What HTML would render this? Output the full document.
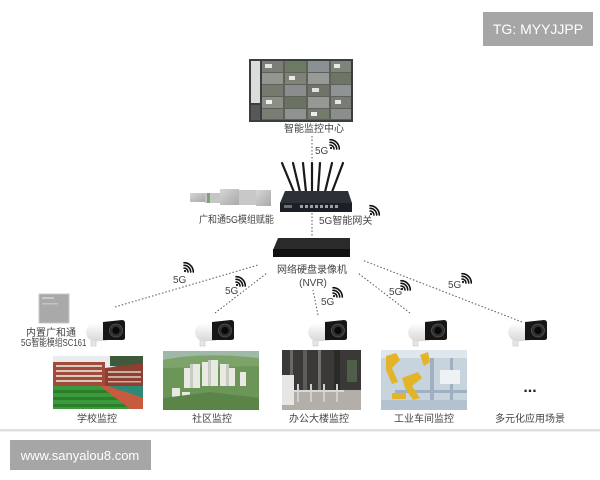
<!DOCTYPE html>
<html><head><meta charset="utf-8">
<style>
html,body{margin:0;padding:0;background:#fff;}
body{width:600px;height:480px;overflow:hidden;position:relative;}
svg{position:absolute;left:0;top:0;}
.t{font-family:"Liberation Sans","Noto Sans CJK SC",sans-serif;fill:#444;font-size:10px;}
</style></head>
<body>
<svg width="600" height="480" viewBox="0 0 600 480" xmlns="http://www.w3.org/2000/svg">
<defs>
  <linearGradient id="wg" x1="0" y1="0" x2="0" y2="1">
    <stop offset="0" stop-color="#ffffff"/><stop offset="1" stop-color="#d8d8d8"/>
  </linearGradient>
  <linearGradient id="modg" x1="0" y1="0" x2="1" y2="1">
    <stop offset="0" stop-color="#d6d6d6"/><stop offset="1" stop-color="#a9a9a9"/>
  </linearGradient>
  <g id="wifi" fill="none" stroke="#111" stroke-width="1.6" stroke-linecap="round">
    <circle cx="1" cy="-1" r="1.1" fill="#111" stroke="none"/>
    <path d="M0,-4 A4,4 0 0 1 4,0"/>
    <path d="M0,-6.7 A6.7,6.7 0 0 1 6.7,0"/>
    <path d="M0,-9.3 A9.3,9.3 0 0 1 9.3,0"/>
  </g>
  <g id="cam">
    <rect x="5" y="18" width="5" height="8" fill="#e6e6e6" stroke="#c8c8c8" stroke-width="0.6"/>
    <ellipse cx="10" cy="12" rx="10" ry="9.5" fill="url(#wg)"/>
    <rect x="9" y="3" width="12" height="18" fill="url(#wg)"/>
    <path d="M17,2 L36,0 Q39,0 39,3 L39,18 Q39,20 36,20 L17,20 Z" fill="#161616"/>
    <circle cx="30" cy="10.5" r="6.5" fill="#2e2e2e" stroke="#555" stroke-width="0.8"/>
    <circle cx="30" cy="10.5" r="3.6" fill="#080808"/>
  </g>
</defs>

<!-- TG badge -->
<rect x="483" y="12" width="110" height="34" fill="#a6a6a6"/>
<text x="538" y="34" text-anchor="middle" font-family="Liberation Sans, sans-serif" font-size="14" fill="#fff">TG: MYYJJPP</text>

<!-- Monitor -->
<rect x="249" y="59" width="104" height="63" fill="#3b3e40"/>
<rect x="251" y="61" width="9" height="42" fill="#dcdcdc"/>
<rect x="251" y="105" width="9" height="15" fill="#55595c"/>
<g>
  <rect x="262" y="61" width="89" height="59" fill="#5d6159"/>
  <rect x="262" y="61" width="21" height="11" fill="#7a7e76"/><rect x="285" y="61" width="21" height="11" fill="#6d7a64"/><rect x="308" y="61" width="21" height="11" fill="#8a9094"/><rect x="331" y="61" width="20" height="11" fill="#7f8478"/>
  <rect x="262" y="73" width="21" height="11" fill="#939690"/><rect x="285" y="73" width="21" height="11" fill="#7f8376"/><rect x="308" y="73" width="21" height="11" fill="#989a98"/><rect x="331" y="73" width="20" height="11" fill="#6c7566"/>
  <rect x="262" y="85" width="21" height="11" fill="#757a6e"/><rect x="285" y="85" width="21" height="11" fill="#8a8d90"/><rect x="308" y="85" width="21" height="11" fill="#6e7568"/><rect x="331" y="85" width="20" height="11" fill="#909394"/>
  <rect x="262" y="97" width="21" height="11" fill="#8c8e88"/><rect x="285" y="97" width="21" height="11" fill="#6a7362"/><rect x="308" y="97" width="21" height="11" fill="#969896"/><rect x="331" y="97" width="20" height="11" fill="#787d74"/>
  <rect x="262" y="109" width="21" height="10" fill="#7a7d74"/><rect x="285" y="109" width="21" height="10" fill="#909290"/><rect x="308" y="109" width="21" height="10" fill="#747a6c"/><rect x="331" y="109" width="20" height="10" fill="#8c8e8c"/>
  <rect x="265" y="64" width="7" height="4" fill="#e4e4e4"/><rect x="289" y="76" width="6" height="4" fill="#e8e8e8"/><rect x="312" y="88" width="7" height="4" fill="#e2e2e2"/><rect x="335" y="100" width="6" height="4" fill="#e6e6e6"/>
  <rect x="266" y="100" width="6" height="4" fill="#f0f0f0"/><rect x="334" y="64" width="6" height="4" fill="#e8e8e8"/><rect x="311" y="112" width="6" height="4" fill="#ececec"/>
</g>
<text class="t" x="314" y="132" text-anchor="middle" font-size="9.5">智能监控中心</text>

<!-- top dotted link -->
<line x1="312" y1="136" x2="312" y2="161" stroke="#555" stroke-width="1" stroke-dasharray="1.5,2"/>
<text class="t" x="315" y="154" font-size="9.5">5G</text>
<use href="#wifi" x="330" y="149"/>

<!-- modules -->
<rect x="190" y="193" width="15" height="9" fill="url(#modg)"/>
<rect x="205" y="193" width="15" height="10" fill="#c4c8c2"/>
<rect x="207" y="193" width="3" height="10" fill="#7fa07a"/>
<rect x="220" y="189" width="19" height="16" fill="url(#modg)"/>
<rect x="239" y="190" width="17" height="15" fill="#c8c8c8"/>
<rect x="256" y="190" width="15" height="16" fill="url(#modg)"/>
<g transform="translate(199,223) scale(0.9,1)"><text class="t" x="0" y="0" font-size="9.5">广和通5G模组赋能</text></g>

<!-- router -->
<g stroke="#1a1a1a" stroke-width="2.2" stroke-linecap="round">
  <line x1="294" y1="192" x2="282" y2="163"/>
  <line x1="300" y1="192" x2="293" y2="163"/>
  <line x1="306" y1="192" x2="303" y2="163"/>
  <line x1="312" y1="192" x2="312" y2="163"/>
  <line x1="318" y1="192" x2="320" y2="163"/>
  <line x1="325" y1="192" x2="332" y2="163"/>
  <line x1="332" y1="192" x2="343" y2="163"/>
</g>
<path d="M285,191 L348,191 L352,203 L280,203 Z" fill="#2c3138"/>
<rect x="280" y="203" width="72" height="9" fill="#1c2026"/>
<rect x="284" y="205" width="8" height="3" fill="#6a7078"/>
<g fill="#9aa2a8"><rect x="300" y="205" width="3" height="3"/><rect x="305" y="205" width="3" height="3"/><rect x="310" y="205" width="3" height="3"/><rect x="315" y="205" width="3" height="3"/><rect x="320" y="205" width="3" height="3"/><rect x="325" y="205" width="3" height="3"/><rect x="330" y="205" width="3" height="3"/><rect x="335" y="205" width="3" height="3"/></g>
<text class="t" x="319" y="224" font-size="10">5G智能网关</text>
<use href="#wifi" x="370" y="215"/>

<line x1="312" y1="213" x2="312" y2="236" stroke="#555" stroke-width="1" stroke-dasharray="1.5,2"/>

<!-- NVR -->
<path d="M278,238 L350,238 L350,250 L273,250 Z" fill="#2a2a2a"/>
<rect x="273" y="249" width="77" height="8" fill="#111"/>
<text class="t" x="312" y="273" text-anchor="middle" font-size="10">网络硬盘录像机</text>
<text class="t" x="313" y="286" text-anchor="middle" font-size="10.5">(NVR)</text>

<!-- dotted links to cameras -->
<g stroke="#555" stroke-width="1" stroke-dasharray="1.5,2" fill="none">
  <line x1="115" y1="307" x2="258" y2="265"/>
  <line x1="215" y1="313" x2="267" y2="273"/>
  <line x1="318" y1="315" x2="313" y2="290"/>
  <line x1="410" y1="313" x2="358" y2="273"/>
  <line x1="522" y1="322" x2="362" y2="260"/>
</g>
<text class="t" x="173" y="283" font-size="9.5">5G</text><use href="#wifi" x="184" y="272"/>
<text class="t" x="225" y="294" font-size="9.5">5G</text><use href="#wifi" x="236" y="286"/>
<text class="t" x="321" y="305" font-size="9.5">5G</text><use href="#wifi" x="333" y="297"/>
<text class="t" x="389" y="295" font-size="9.5">5G</text><use href="#wifi" x="401" y="290"/>
<text class="t" x="448" y="288" font-size="9.5">5G</text><use href="#wifi" x="462" y="283"/>

<!-- left chip -->
<rect x="39" y="294" width="30" height="29" fill="#a9a9a9" stroke="#c8c8c8" stroke-width="1"/>
<rect x="42" y="297" width="12" height="2" fill="#c9c9c9"/>
<rect x="42" y="303" width="16" height="1.5" fill="#c4c4c4"/>
<text class="t" x="51" y="336" text-anchor="middle" font-size="9.5">内置广和通</text>
<g transform="translate(21,346) scale(0.78,1)"><text class="t" x="0" y="0" font-size="9.5">5G智能模组SC161</text></g>

<!-- cameras -->
<use href="#cam" x="86" y="320"/>
<use href="#cam" x="195" y="320"/>
<use href="#cam" x="308" y="320"/>
<use href="#cam" x="408" y="320"/>
<use href="#cam" x="508" y="320"/>

<!-- school photo -->
<g>
  <rect x="53" y="356" width="90" height="53" fill="#e8ecee"/>
  <path d="M110,356 L143,356 L143,368 L110,366 Z" fill="#3e5a3a"/>
  <rect x="53" y="362" width="52" height="24" fill="#a24a3c"/>
  <g fill="#d9c9bd"><rect x="56" y="365" width="46" height="2"/><rect x="56" y="370" width="46" height="2"/><rect x="56" y="375" width="46" height="2"/><rect x="56" y="380" width="46" height="2"/></g>
  <path d="M105,368 L143,363 L143,386 L105,386 Z" fill="#8f3e32"/>
  <g fill="#c9aea2"><rect x="108" y="371" width="33" height="2"/><rect x="108" y="376" width="33" height="2"/><rect x="108" y="381" width="33" height="1.5"/></g>
  <rect x="53" y="386" width="90" height="23" fill="#3c9a3a"/>
  <g fill="#2a7e2c"><rect x="53" y="390" width="70" height="3"/><rect x="53" y="397" width="75" height="3"/><rect x="53" y="404" width="80" height="3"/></g>
  <path d="M100,386 L143,386 L143,409 L130,409 Z" fill="#c85a40"/>
  <path d="M108,386 L143,386 L143,398 Z" fill="#2e8a76"/>
</g>
<!-- community photo -->
<g>
  <rect x="163" y="351" width="96" height="59" fill="#6c9558"/>
  <rect x="163" y="351" width="96" height="10" fill="#9fb8a8"/>
  <path d="M163,360 Q200,352 259,358 L259,366 L163,368 Z" fill="#7da36a"/>
  <g fill="#e9e9e3">
    <rect x="184" y="368" width="7" height="20"/><rect x="193" y="364" width="7" height="24"/><rect x="202" y="362" width="7" height="24"/>
    <rect x="211" y="360" width="7" height="26"/><rect x="220" y="364" width="7" height="22"/><rect x="229" y="368" width="6" height="18"/>
    <rect x="172" y="388" width="8" height="16"/><rect x="182" y="392" width="8" height="13"/><rect x="240" y="372" width="6" height="14"/>
  </g>
  <g fill="#c8cac4"><rect x="190" y="364" width="3" height="24"/><rect x="208" y="360" width="3" height="26"/><rect x="226" y="364" width="3" height="22"/></g>
  <path d="M163,398 L210,392 L259,398 L259,410 L163,410 Z" fill="#5b8449"/>
</g>
<!-- office photo -->
<g>
  <rect x="282" y="350" width="79" height="60" fill="#3a3937"/>
  <rect x="290" y="350" width="3" height="45" fill="#6a6864"/>
  <rect x="303" y="350" width="4" height="45" fill="#5e5c58"/>
  <rect x="318" y="350" width="3" height="45" fill="#74726c"/>
  <rect x="334" y="350" width="6" height="40" fill="#2a2a28"/>
  <rect x="347" y="360" width="10" height="22" fill="#4f5e48"/>
  <rect x="282" y="390" width="79" height="20" fill="#b3afa8"/>
  <rect x="282" y="375" width="12" height="30" fill="#e6e6e4"/>
  <g fill="#cfd0cc"><rect x="297" y="384" width="2" height="18"/><rect x="310" y="384" width="2" height="18"/><rect x="323" y="384" width="2" height="18"/><rect x="336" y="384" width="2" height="18"/></g>
  <rect x="294" y="390" width="50" height="2" fill="#d8d8d6"/>
</g>
<!-- industrial photo -->
<g>
  <rect x="381" y="350" width="86" height="60" fill="#c7d3dd"/>
  <rect x="381" y="350" width="86" height="8" fill="#dfe6ec"/>
  <g fill="#9eb0c2"><rect x="430" y="358" width="4" height="52"/><rect x="450" y="358" width="3" height="52"/><rect x="395" y="390" width="72" height="3"/></g>
  <g fill="#e2b42a">
    <path d="M386,356 L396,353 L400,360 L392,368 L398,382 L392,384 L386,370 Z"/>
    <path d="M402,378 L418,372 L422,378 L412,386 L420,398 L413,400 L405,388 Z"/>
    <rect x="392" y="393" width="14" height="6"/>
    <path d="M420,355 L428,352 L430,362 L424,366 Z"/>
  </g>
  <rect x="440" y="370" width="20" height="14" fill="#eef2f5"/>
  <rect x="381" y="400" width="86" height="10" fill="#b4c2cf"/>
</g>
<text x="530" y="392" text-anchor="middle" font-family="Liberation Sans, sans-serif" font-size="16" font-weight="bold" fill="#222">...</text>

<!-- captions -->
<text class="t" x="97" y="422" text-anchor="middle">学校监控</text>
<text class="t" x="212" y="422" text-anchor="middle">社区监控</text>
<text class="t" x="319" y="422" text-anchor="middle">办公大楼监控</text>
<text class="t" x="424" y="422" text-anchor="middle">工业车间监控</text>
<text class="t" x="530" y="422" text-anchor="middle">多元化应用场景</text>

<!-- divider -->
<rect x="0" y="429" width="600" height="2.5" fill="#e0e0e0"/>

<!-- footer badge -->
<rect x="10" y="440" width="141" height="30" fill="#a6a6a6"/>
<text x="80" y="460" text-anchor="middle" font-family="Liberation Sans, sans-serif" font-size="13" fill="#fff">www.sanyalou8.com</text>
</svg>
</body></html>
